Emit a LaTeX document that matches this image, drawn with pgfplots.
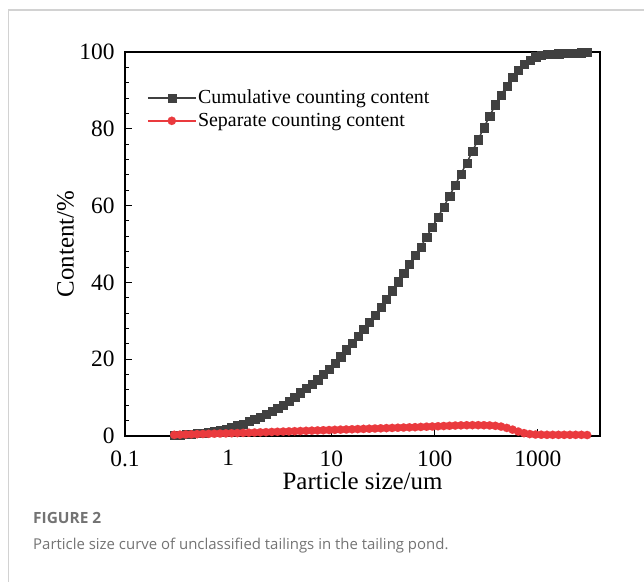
\documentclass[border=0pt]{standalone}
\usepackage{fontspec}
\setmainfont{Liberation Serif}
\newfontfamily\capfont{Open Sans}
\usepackage{pgfplots}
\pgfplotsset{compat=1.18}
\usepackage{pgfplotstable}
\definecolor{cumgray}{RGB}{64,64,64}
\definecolor{sepred}{RGB}{234,58,62}
\definecolor{framegray}{RGB}{210,210,210}
\definecolor{capgray}{RGB}{115,115,115}
\pgfplotstableread{
x cum sep
0.300 0.30 0.30
0.341 0.35 0.35
0.388 0.45 0.40
0.440 0.55 0.44
0.500 0.70 0.48
0.569 0.85 0.52
0.646 1.05 0.56
0.734 1.30 0.60
0.834 1.55 0.64
0.949 1.85 0.68
1.078 2.20 0.72
1.225 2.70 0.76
1.393 3.20 0.80
1.583 3.80 0.85
1.799 4.40 0.90
2.045 4.90 0.95
2.324 5.70 1.00
2.641 6.50 1.05
3.000 7.30 1.10
3.41 8.10 1.15
3.875 9.00 1.20
4.40 10.1 1.25
5.00 11.3 1.30
5.69 12.4 1.35
6.46 13.6 1.40
7.34 14.7 1.45
8.35 16.1 1.50
9.49 17.4 1.55
10.78 19.0 1.60
12.25 20.7 1.65
13.93 22.5 1.70
15.83 24.2 1.75
17.99 26.0 1.80
20.45 27.8 1.85
23.24 29.6 1.90
26.41 31.4 1.95
30.0 33.5 2.00
34.1 35.7 2.05
38.75 37.9 2.10
44.0 40.2 2.15
50.0 42.5 2.20
56.9 44.8 2.25
64.6 47.1 2.30
73.4 49.3 2.36
83.5 51.8 2.42
94.9 54.4 2.48
107.8 57.0 2.54
122.5 59.7 2.60
139.3 62.5 2.66
158.3 65.4 2.72
179.9 68.3 2.77
204.5 71.1 2.80
232.4 74.2 2.82
264.1 77.2 2.82
300 80.3 2.80
341 83.3 2.75
387.5 86.3 2.65
440 88.8 2.45
500 91.2 2.10
569 93.4 1.65
646 95.2 1.15
734 96.8 0.75
835 98.0 0.50
949 98.8 0.38
1078 99.2 0.33
1225 99.4 0.30
1393 99.5 0.30
1583 99.6 0.30
1799 99.7 0.30
2045 99.75 0.30
2324 99.8 0.30
2641 99.85 0.30
3000 99.9 0.25
}\datatable
\begin{document}
\begin{tikzpicture}[x=1bp,y=1bp]
\path[use as bounding box] (0,0) rectangle (644,582);
\draw[framegray, line width=1.2bp] (8.5,0) -- (8.5,572) -- (644,572);
\node[anchor=base west, inner sep=0pt, text=capgray, font=\capfont\bfseries\fontsize{15.5}{18}\selectfont] at (33,58) {FIGURE 2};
\node[anchor=base west, inner sep=0pt, text=capgray, font=\capfont\fontsize{15}{18}\selectfont] at (33,32) {Particle size curve of unclassified tailings in the tailing pond.};
\begin{axis}[
  at={(125bp,146bp)}, anchor=south west,
  scale only axis, width=475bp, height=384bp,
  xmode=log, log basis x=10,
  xmin=0.1, xmax=4000, ymin=0, ymax=100,
  xtick={0.1,1,10,100,1000}, xticklabels={0.1,1,10,100,1000},
  ytick={0,20,40,60,80,100}, yticklabels={0,20,40,60,80,100},
  minor y tick num=4,
  tick align=inside, xtick pos=bottom, ytick pos=left,
  major tick length=7bp, minor tick length=4bp,
  every tick/.style={black, line width=0.9bp},
  axis line style={black, line width=1.1bp},
  tick label style={font=\fontsize{23.5}{27}\selectfont},
  xticklabel style={yshift=-11bp},
  yticklabel style={xshift=-7bp},
  label style={font=\fontsize{25}{30}\selectfont},
  xlabel={Particle size/um},
  ylabel={Content/\%},
  xlabel style={at={(axis description cs:0.5,-0.1406)}, anchor=base},
  ylabel style={at={(axis description cs:-0.125,0.5)}, anchor=center},
  legend cell align=left,
  legend style={at={(axis description cs:0.046,0.905)}, anchor=north west, draw=none, fill=none, inner sep=0pt,
    font=\fontsize{20}{24}\selectfont, nodes={inner sep=1.5bp}, row sep=5bp},
  legend image code/.code={\draw[mark repeat=2,mark phase=2,#1] plot coordinates {(0bp,0bp)(24bp,0bp)(48bp,0bp)};},
]
\addplot[cumgray, line width=1.5bp, mark=square*, mark size=4.1bp, mark options={fill=cumgray, draw=cumgray, line width=0.1bp}] table[x=x,y=cum]{\datatable};
\addlegendentry{Cumulative counting content}
\addplot[sepred, line width=1.5bp, mark=*, mark size=4.2bp, mark options={fill=sepred, draw=sepred, line width=0.1bp}] table[x=x,y=sep]{\datatable};
\addlegendentry{Separate counting content}
\end{axis}
\end{tikzpicture}
\end{document}
